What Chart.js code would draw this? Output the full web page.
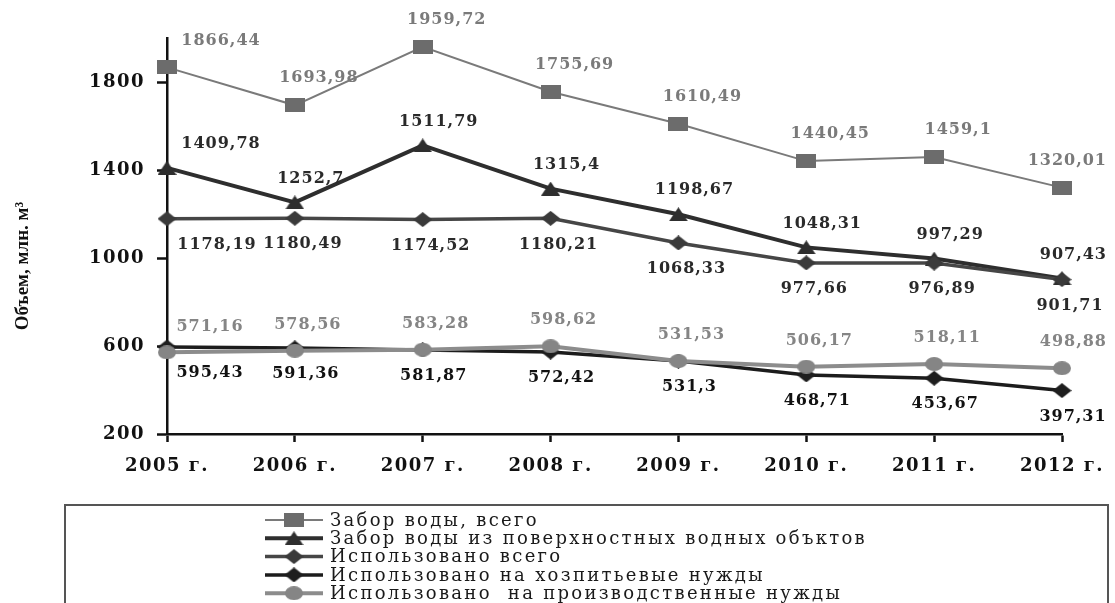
<!DOCTYPE html>
<html>
<head>
<meta charset="utf-8">
<title>Забор и использование воды, 2005–2012 гг.</title>
<script src="https://cdn.jsdelivr.net/npm/chart.js"></script>
<style>
  html, body { margin: 0; padding: 0; background: #fff; }
  canvas { display: block; }
</style>
</head>
<body>
<canvas id="waterChart" width="1115" height="603"></canvas>
<script>
'use strict';

// Years on the x axis
var years = ['2005 г.', '2006 г.', '2007 г.', '2008 г.', '2009 г.', '2010 г.', '2011 г.', '2012 г.'];

// Series, млн. м3
var intakeTotal = [1866.44, 1693.98, 1959.72, 1755.69, 1610.49, 1440.45, 1459.1, 1320.01];
var intakeSurface = [1409.78, 1252.7, 1511.79, 1315.4, 1198.67, 1048.31, 997.29, 907.43];
var usedTotal = [1178.19, 1180.49, 1174.52, 1180.21, 1068.33, 977.66, 976.89, 901.71];
var usedHousehold = [595.43, 591.36, 581.87, 572.42, 531.3, 468.71, 453.67, 397.31];
var usedIndustrial = [571.16, 578.56, 583.28, 598.62, 531.53, 506.17, 518.11, 498.88];

// Y axis ticks
var yTicks = [200, 600, 1000, 1400, 1800];

var seriesNames = [
  'Забор воды, всего',
  'Забор воды из поверхностных водных объктов',
  'Использовано всего',
  'Использовано на хозпитьевые нужды',
  'Использовано  на производственные нужды'
];

/**
 * Small stretched marker drawn on its own canvas (the original picture is wider than tall).
 */
var makeMarker = function(kind, w, h, color) {
  var c = document.createElement('canvas');
  c.width = w;
  c.height = h;
  var g = c.getContext('2d');
  g.fillStyle = color;
  g.beginPath();
  if (kind === 'square') {
    g.rect(0, 0, w, h);
  } else if (kind === 'triangle') {
    g.moveTo(w / 2, 0);
    g.lineTo(w, h);
    g.lineTo(0, h);
  } else if (kind === 'diamond') {
    g.moveTo(w / 2, 0);
    g.lineTo(w, h / 2);
    g.lineTo(w / 2, h);
    g.lineTo(0, h / 2);
  } else {
    g.ellipse(w / 2, h / 2, w / 2, h / 2, 0, 0, Math.PI * 2);
  }
  g.closePath();
  g.fill();
  return c;
};

var formatValue = function(v) {
  return String(v).replace('.', ',');
};

// Value labels next to every point
var pointLabels = {
  id: 'pointLabels',
  afterDatasetsDraw: function(chart) {
    var ctx = chart.ctx;
    chart.data.datasets.forEach(function(ds, i) {
      var meta = chart.getDatasetMeta(i);
      ctx.save();
      ctx.font = 'bold 16px "DejaVu Serif"';
      ctx.fillStyle = ds.labelColor;
      ctx.textAlign = 'center';
      ctx.textBaseline = 'middle';
      ctx.letterSpacing = '1px';
      meta.data.forEach(function(pt, j) {
        var text = formatValue(ds.data[j]);
        var half = ctx.measureText(text).width / 2;
        var dx = j === 0 ? ds.labelDxFirst : ds.labelDx;
        // keep the last labels inside the picture
        var x = Math.min(pt.x + dx, chart.width - 8 - half);
        ctx.fillText(text, x, pt.y + ds.labelDy);
      });
      ctx.restore();
    });
  }
};

// Wider letters for the axis texts, like the scanned original
var textSpacing = {
  id: 'textSpacing',
  beforeDraw: function(chart) {
    chart.ctx.letterSpacing = '1.5px';
  },
  afterDraw: function(chart) {
    chart.ctx.letterSpacing = '0px';
  }
};

// Rotated y axis title
var yTitle = {
  id: 'yTitle',
  afterDraw: function(chart) {
    var ctx = chart.ctx;
    var y = chart.scales.y;
    ctx.save();
    ctx.letterSpacing = '0px';
    ctx.translate(23, (y.top + y.bottom) / 2 + 30);
    ctx.rotate(-Math.PI / 2);
    ctx.font = 'bold 19px "Liberation Serif"';
    ctx.fillStyle = '#111';
    ctx.textAlign = 'center';
    ctx.textBaseline = 'middle';
    ctx.fillText('Объем, млн. м³', 0, 0);
    ctx.restore();
  }
};

// Boxed legend under the plot
var boxLegend = {
  id: 'boxLegend',
  afterDraw: function(chart) {
    var ctx = chart.ctx;
    ctx.save();
    ctx.letterSpacing = '0px';
    ctx.strokeStyle = '#555';
    ctx.lineWidth = 2;
    ctx.strokeRect(65, 505, 1043, 130);

    chart.data.datasets.forEach(function(ds, i) {
      var cy = 520 + i * 18.3;
      ctx.strokeStyle = ds.borderColor;
      ctx.lineWidth = ds.borderWidth;
      ctx.beginPath();
      ctx.moveTo(265, cy);
      ctx.lineTo(323, cy);
      ctx.stroke();
      var m = ds.pointStyle;
      ctx.drawImage(m, 294 - m.width / 2, cy - m.height / 2);

      ctx.font = '18px "DejaVu Serif"';
      ctx.letterSpacing = '2.3px';
      ctx.fillStyle = '#1a1a1a';
      ctx.textAlign = 'left';
      ctx.textBaseline = 'middle';
      ctx.fillText(ds.label, 330, cy + 1);
    });
    ctx.restore();
  }
};

var ctx = document.getElementById('waterChart').getContext('2d');
new Chart(ctx, {
  type: 'line',
  data: {
    labels: years,
    datasets: [{
      label: seriesNames[0],
      data: intakeTotal,
      borderColor: '#7a7a7a',
      borderWidth: 2,
      pointStyle: makeMarker('square', 20, 14, '#6c6c6c'),
      pointRadius: 9,
      labelColor: '#7a7a7a',
      labelDx: 24,
      labelDxFirst: 54,
      labelDy: -27,
      order: 4
    }, {
      label: seriesNames[1],
      data: intakeSurface,
      borderColor: '#2e2e2e',
      borderWidth: 4,
      pointStyle: makeMarker('triangle', 19, 14, '#2e2e2e'),
      pointRadius: 9,
      labelColor: '#2a2a2a',
      labelDx: 16,
      labelDxFirst: 54,
      labelDy: -24,
      order: 3
    }, {
      label: seriesNames[2],
      data: usedTotal,
      borderColor: '#464646',
      borderWidth: 3.5,
      pointStyle: makeMarker('diamond', 19, 15, '#3a3a3a'),
      pointRadius: 9,
      labelColor: '#2a2a2a',
      labelDx: 8,
      labelDxFirst: 50,
      labelDy: 26,
      order: 2
    }, {
      label: seriesNames[3],
      data: usedHousehold,
      borderColor: '#1c1c1c',
      borderWidth: 3.5,
      pointStyle: makeMarker('diamond', 19, 15, '#1e1e1e'),
      pointRadius: 9,
      labelColor: '#111',
      labelDx: 11,
      labelDxFirst: 43,
      labelDy: 26,
      order: 1
    }, {
      label: seriesNames[4],
      data: usedIndustrial,
      borderColor: '#8c8c8c',
      borderWidth: 4,
      pointStyle: makeMarker('circle', 18, 14, '#858585'),
      pointRadius: 9,
      labelColor: '#858585',
      labelDx: 13,
      labelDxFirst: 43,
      labelDy: -26,
      order: 0
    }]
  },
  options: {
    responsive: false,
    animation: false,
    events: [],
    layout: {
      padding: { left: 0, top: 38, right: 53, bottom: 0 }
    },
    plugins: {
      legend: { display: false },
      tooltip: { enabled: false }
    },
    elements: {
      line: { tension: 0 }
    },
    scales: {
      x: {
        offset: false,
        grid: {
          drawOnChartArea: false,
          drawTicks: true,
          tickLength: 8,
          tickColor: '#111',
          tickWidth: 2.5
        },
        border: { display: true, color: '#111', width: 2.5 },
        ticks: {
          color: '#111',
          font: { family: '"DejaVu Serif"', size: 18, weight: 'bold' },
          padding: 14,
          maxRotation: 0,
          autoSkip: false
        },
        afterFit: function(scale) {
          scale.height = 169;
        }
      },
      y: {
        min: 200,
        max: 2000,
        afterBuildTicks: function(scale) {
          scale.ticks = yTicks.map(function(v) { return { value: v }; });
        },
        grid: {
          drawOnChartArea: false,
          drawTicks: true,
          tickLength: 10,
          tickColor: '#111',
          tickWidth: 2.5
        },
        border: { display: true, color: '#111', width: 2.5 },
        ticks: {
          color: '#111',
          font: { family: '"DejaVu Serif"', size: 18, weight: 'bold' },
          padding: 12,
          callback: function(v) { return String(v); }
        },
        afterFit: function(scale) {
          scale.width = 167;
        }
      }
    }
  },
  plugins: [textSpacing, pointLabels, yTitle, boxLegend]
});
</script>
</body>
</html>
